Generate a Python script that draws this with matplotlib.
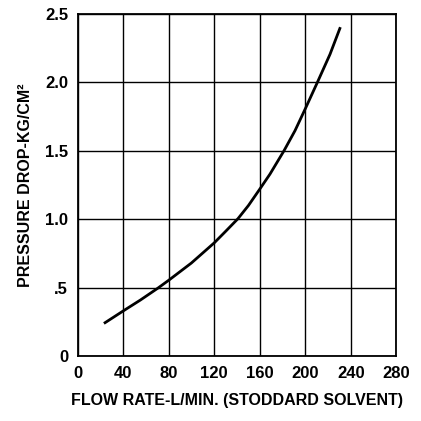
import matplotlib
matplotlib.use('Agg')
import matplotlib.pyplot as plt

# values
flow = [22.9, 40, 55, 70.4, 80, 99.8, 120, 130, 140.8, 150, 160, 169, 181.3,
        191, 200, 210.7, 221.8, 230.9]
pressure = [0.239, 0.331, 0.41, 0.497, 0.555, 0.68, 0.828, 0.912, 1.004, 1.10, 1.22,
            1.33, 1.5, 1.647, 1.806, 2.0, 2.205, 2.403]

xticks = [0, 40, 80, 120, 160, 200, 240, 280]
yticks = [0, 0.5, 1.0, 1.5, 2.0, 2.5]
ytick_labels = ['0', '.5', '1.0', '1.5', '2.0', '2.5']

plt.rcParams['font.family'] = ['Liberation Sans', 'DejaVu Sans']
plt.rcParams['font.weight'] = 'bold'

fig = plt.figure(figsize=(4.21, 4.21), dpi=100)
ax = fig.add_axes([0.185, 0.154, 0.756, 0.813])

ax.plot(flow, pressure, color='black', lw=2, solid_capstyle='butt', solid_joinstyle='round')

ax.set_xlim(0, 280)
ax.set_ylim(0, 2.5)
ax.set_xticks(xticks)
ax.set_yticks(yticks)
ax.set_yticklabels(ytick_labels)
ax.grid(True, color='black', lw=1)
ax.tick_params(length=0, labelsize=12, pad=7)
for lab in ax.get_xticklabels() + ax.get_yticklabels():
    lab.set_fontweight('bold')
for s in ax.spines.values():
    s.set_linewidth(1.3)

ax.set_xlabel('FLOW RATE-L/MIN. (STODDARD SOLVENT)', fontsize=11.5, fontweight='bold', labelpad=9)
ax.set_ylabel('PRESSURE DROP-KG/CM²', fontsize=11.5, fontweight='bold', labelpad=9)

fig.savefig('out.png', dpi=100)
